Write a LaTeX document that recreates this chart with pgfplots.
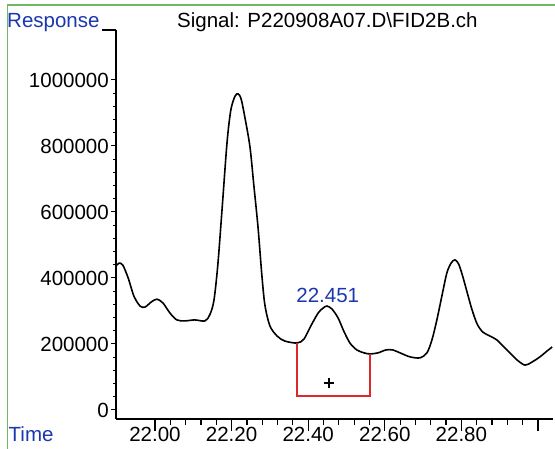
\documentclass[border=0pt]{standalone}
\usepackage{fontspec}
\setmainfont{Liberation Sans}
\usepackage{pgfplots}
\pgfplotsset{compat=1.18}
\definecolor{lblblue}{RGB}{25,55,175}
\definecolor{framegreen}{RGB}{110,185,100}
\definecolor{boxred}{RGB}{220,40,40}
\begin{document}
\fontsize{20.5}{24}\selectfont
\begin{tikzpicture}[x=1pt,y=1pt]
\useasboundingbox (0,0) rectangle (555,-449);
\draw[framegreen, line width=1.2pt] (7.5,-449) -- (7.5,-5) -- (555,-5);
\node[anchor=base west, inner sep=0, text=lblblue] at (8.5,-442) {Time};
\node[anchor=base west, inner sep=0, text=lblblue] at (7,-28) {Response};
\node[anchor=base west, inner sep=0] at (177,-28) {Signal: P220908A07.D\textbackslash FID2B.ch};
\draw[line width=1.3pt] (102,-30) -- (116,-30);
\begin{axis}[
  scale only axis, width=437pt, height=389pt,
  at={(116pt,-419pt)}, anchor=south west,
  xmin=21.8982, xmax=23.0392, ymin=-27273, ymax=1151515,
  axis x line=bottom, axis y line=left,
  axis line style={-, line width=1.4pt},
  tick align=outside,
  major tick length=5pt, minor tick length=3pt,
  xtick style={/pgfplots/major tick length=12pt, /pgfplots/minor tick length=6pt, line width=1.2pt, black},
  ytick style={line width=1pt, black},
  xtick={22,22.2,22.4,22.6,22.8,23},
  xticklabels={22.00,22.20,22.40,22.60,22.80,{}},
  minor x tick num=4,
  ytick={0,200000,400000,600000,800000,1000000},
  yticklabels={0,200000,400000,600000,800000,1000000},
  minor y tick num=4,
  scaled y ticks=false,
  /pgf/number format/assume math mode=true,
  xticklabel style={anchor=north, inner sep=0pt, yshift=-3pt},
  yticklabel style={anchor=east, inner sep=0pt, xshift=-2pt},
  clip=false,
]
\addplot[black, line width=1.6pt, smooth, tension=0.5] coordinates {
(21.898,436000) (21.906,445000) (21.916,439000) (21.930,400000) (21.945,345000)
(21.961,315000) (21.974,312000) (21.990,327000) (22.005,336000) (22.021,324000)
(22.039,294000) (22.057,273000) (22.078,270000) (22.104,273000) (22.131,270000)
(22.144,291000) (22.154,333000) (22.164,439000) (22.175,606000) (22.188,809000)
(22.198,909000) (22.209,951000) (22.217,958000) (22.225,942000) (22.235,885000)
(22.248,797000) (22.258,682000) (22.269,554000) (22.279,409000) (22.287,318000)
(22.300,255000) (22.319,224000) (22.339,209000) (22.371,203000) (22.389,215000)
(22.407,255000) (22.426,294000) (22.439,309000) (22.449,315000) (22.462,306000)
(22.478,279000) (22.493,239000) (22.509,203000) (22.527,182000) (22.546,173000)
(22.561,170000) (22.582,173000) (22.603,182000) (22.621,182000) (22.640,173000)
(22.666,161000) (22.692,158000) (22.710,173000) (22.723,212000) (22.736,273000)
(22.749,345000) (22.762,415000) (22.773,445000) (22.783,455000) (22.793,442000)
(22.804,403000) (22.817,348000) (22.828,303000) (22.841,261000) (22.856,236000)
(22.875,224000) (22.893,212000) (22.911,191000) (22.927,173000) (22.945,152000)
(22.966,136000) (22.984,145000) (23.005,161000) (23.024,179000) (23.037,191000)
};
\addplot[boxred, line width=1.4pt, sharp plot] coordinates {
(22.371,203000) (22.371,42000) (22.561,42000) (22.561,170000)
};
\addplot[only marks, mark=+, mark size=5pt, line width=1.5pt, black] coordinates {(22.454,82000)};
\node[text=lblblue, inner sep=0pt] at (axis cs:22.451,348000) {22.451};
\end{axis}
\end{tikzpicture}
\end{document}
